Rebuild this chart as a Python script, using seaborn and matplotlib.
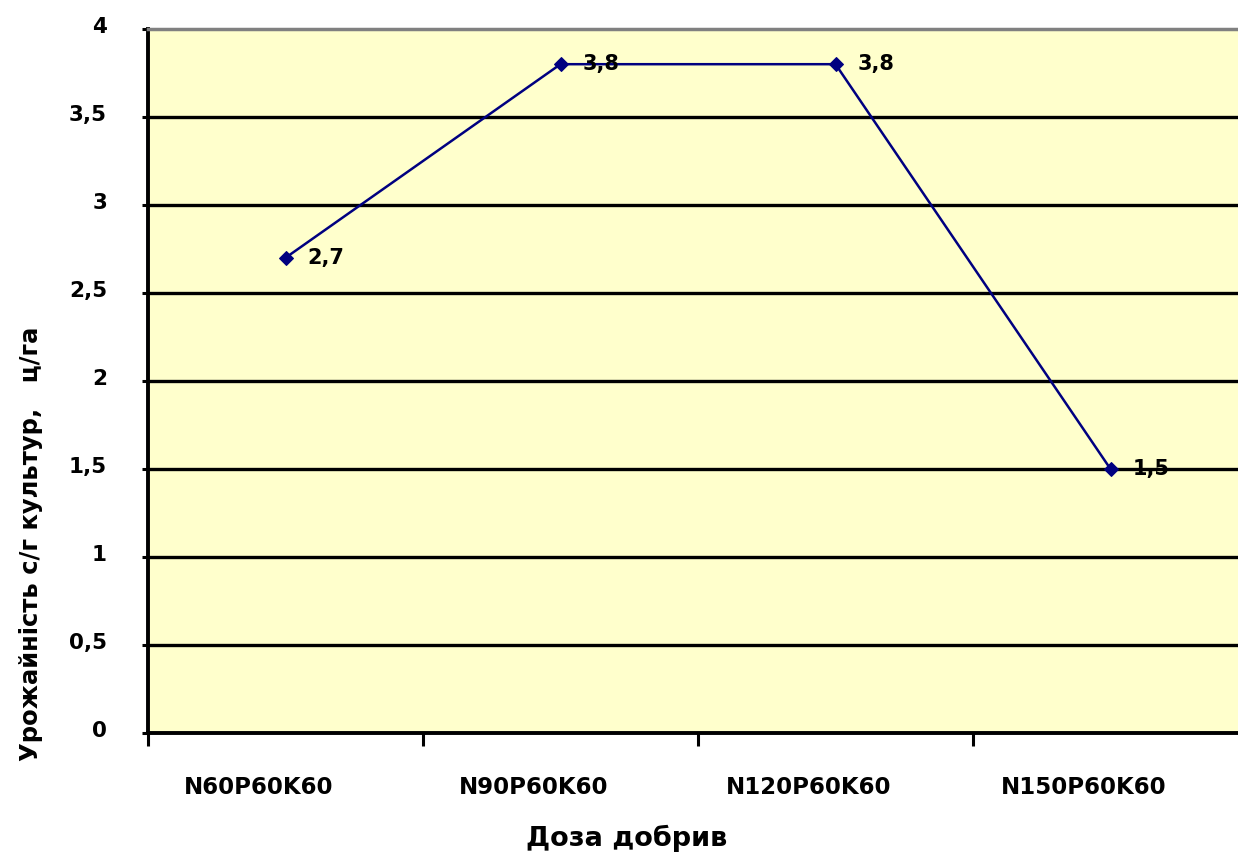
import matplotlib
matplotlib.use("Agg")
import matplotlib.pyplot as plt
import matplotlib.transforms as mtransforms
import seaborn as sns
import pandas as pd
from matplotlib.ticker import FixedLocator

doses = ["N60P60K60", "N90P60K60", "N120P60K60", "N150P60K60"]
yields = [2.7, 3.8, 3.8, 1.5]
y_ticks = [0, 0.5, 1, 1.5, 2, 2.5, 3, 3.5, 4]

sns.set_style("white")
plt.rcParams["font.family"] = ["DejaVu Sans"]
plt.rcParams["text.color"] = "black"
plt.rcParams["axes.labelcolor"] = "black"
plt.rcParams["xtick.color"] = "black"
plt.rcParams["ytick.color"] = "black"

df = pd.DataFrame({"pos": range(len(doses)), "dose": doses, "yield": yields})

fig = plt.figure(figsize=(12.38, 8.55), dpi=100)
ax = fig.add_axes([148 / 1238, 1 - 733 / 855, 1 - 148 / 1238, (733 - 29) / 855])
ax.set_facecolor("#FFFFCC")

# horizontal gridlines
for v in y_ticks[1:-1]:
    ax.axhline(v, color="black", lw=2.4, zorder=1)

sns.lineplot(data=df, x="pos", y="yield", ax=ax, color="#000080", lw=1.8,
             marker="D", markersize=7, markeredgecolor="#000080", zorder=3)

for x, y in zip(df["pos"], df["yield"]):
    ax.annotate(f"{y:.1f}".replace(".", ","), (x, y), xytext=(16, 0),
                textcoords="offset points", va="center", ha="left",
                fontsize=15, fontweight="bold", color="black", zorder=4)

ax.set_ylim(0, 4)
ax.set_xlim(-0.5, -0.5 + (1238 - 148) / 275)

ax.set_yticks(y_ticks)
ax.set_yticklabels([f"{v:g}".replace(".", ",") for v in y_ticks],
                   fontsize=15.5, fontweight="bold", color="black")
ax.set_xticks(range(len(doses)))
ax.set_xticklabels(doses, fontsize=16.5, fontweight="bold", color="black")
ax.xaxis.set_minor_locator(FixedLocator([-0.5, 0.5, 1.5, 2.5]))

ax.tick_params(axis="y", which="major", direction="out", length=4.5, width=2.2,
               color="black", pad=25, left=True)
ax.tick_params(axis="x", which="major", length=0, pad=31)
ax.tick_params(axis="x", which="minor", direction="out", length=9, width=2.2,
               color="black", bottom=True)

# y tick labels sit slightly above their gridlines,
# x tick labels slightly left of the category centres
shift_y = mtransforms.ScaledTranslation(0, 4 / 100, fig.dpi_scale_trans)
for lab in ax.get_yticklabels():
    lab.set_transform(lab.get_transform() + shift_y)
shift_x = mtransforms.ScaledTranslation(-27 / 100, 0, fig.dpi_scale_trans)
for lab in ax.get_xticklabels():
    lab.set_transform(lab.get_transform() + shift_x)

for s in ["left", "bottom"]:
    ax.spines[s].set_color("black")
    ax.spines[s].set_linewidth(2.8)
ax.spines["top"].set_color("#808080")
ax.spines["top"].set_linewidth(2.5)
ax.spines["right"].set_visible(False)

ax.set_xlabel("Доза добрив", fontsize=19.5, fontweight="bold", color="black")
ax.xaxis.set_label_coords((627 - 148) / 1090, (733 - 838) / 704)
ax.xaxis.label.set_va("center")

ax.set_ylabel("Урожайність с/г культур,   ц/га", fontsize=17.5,
              fontweight="bold", color="black")
ax.yaxis.set_label_coords((31 - 148) / 1090, (733 - 544) / 704)
ax.yaxis.label.set_va("center")
ax.yaxis.label.set_ha("center")

fig.savefig("out.png", dpi=100)
